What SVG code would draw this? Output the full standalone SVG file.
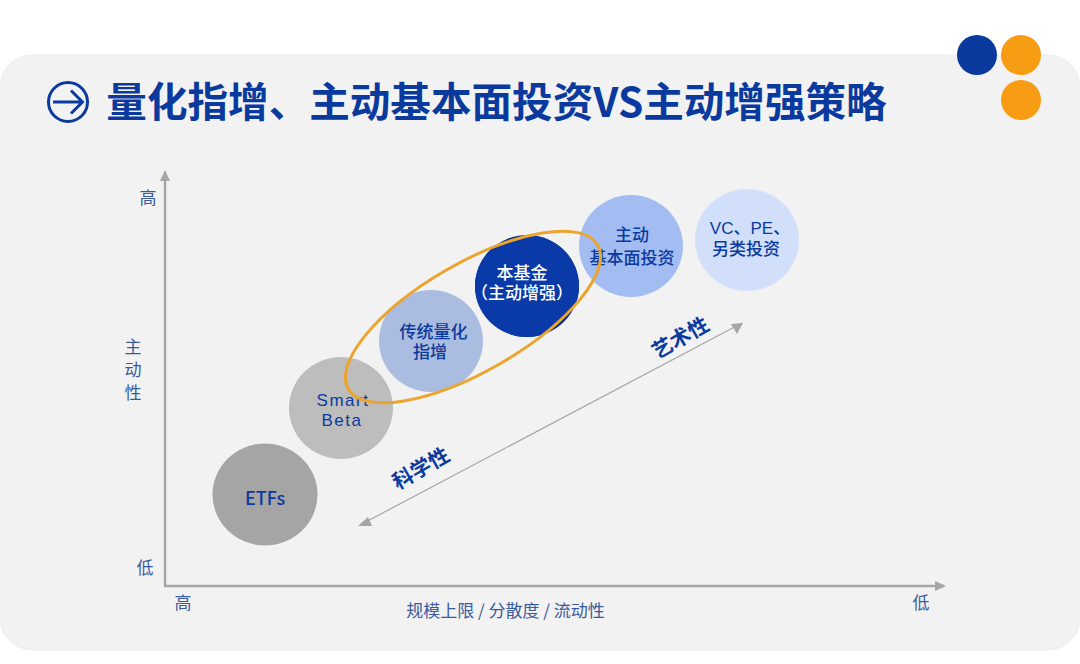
<svg xmlns="http://www.w3.org/2000/svg" width="1080" height="664" viewBox="0 0 1080 664">
<style>
text{font-family:"Noto Sans CJK SC","Noto Sans",sans-serif;text-anchor:middle}
.t{fill:#0b3a9e;font-size:17px;font-weight:500}
.l{font-family:"Liberation Sans","Noto Sans CJK SC",sans-serif}
.w{fill:#fff;font-size:17px;font-weight:500}
.a{fill:#3a5a9e;font-size:17px}
.r{fill:#0b3a9e;font-size:20.500px;font-weight:700}
</style>
<defs>
<marker id="ah" markerWidth="12" markerHeight="12" refX="9" refY="5" orient="auto" markerUnits="userSpaceOnUse"><path d="M0 0L11 5L0 10Z" fill="#a6a6a6"/></marker>
<clipPath id="ec"><ellipse cx="473" cy="317" rx="144" ry="54" transform="rotate(-30 473 317)"/></clipPath>
</defs>
<rect width="1080" height="664" fill="#fff"/>
<rect id="panel" x="0" y="55" width="1080" height="595" rx="32" fill="#f2f2f3" stroke="#e6e6e6" stroke-width="0.6"/>
<g id="header">
<circle cx="68" cy="102" r="19.500" fill="none" stroke="#0b3a9e" stroke-width="3"/>
<path d="M53 102H82M71 90.500L82.500 102L71 113.500" fill="none" stroke="#0b3a9e" stroke-width="3"/>
<text x="496.500" y="117" style="font-size:40.600px;font-weight:700;fill:#0b3a9e">量化指增、主动基本面投资VS主动增强策略</text>
</g>
<g id="logo"><circle cx="977" cy="55" r="20" fill="#0b3a9e"/><circle cx="1021" cy="55" r="20" fill="#f89c14"/><circle cx="1021" cy="100" r="20" fill="#f89c14"/></g>
<g id="connectors" fill="none" stroke="#a6a6a6">
<path d="M165 586V172" stroke-width="2.400" marker-end="url(#ah)"/>
<path d="M164 586H944" stroke-width="2.400" marker-end="url(#ah)"/>
<path d="M360 525L742 323" stroke-width="1.200"/>
<path d="M358 526L368 517L372 526Z M743 323L731 324L737 334Z" fill="#a6a6a6" stroke="none"/>
</g>
<g id="n-etfs"><ellipse cx="265" cy="494.500" rx="52.500" ry="51" fill="#a5a5a5"/><text class="t" x="265" y="504.500" style="font-size:18px">ETFs</text></g>
<g id="n-smart"><ellipse cx="341" cy="408" rx="52" ry="51" fill="#bdbdbd"/><text class="t l" x="343" y="406" style="letter-spacing:1.500px">Smart</text><text class="t l" x="342" y="425.500" style="letter-spacing:1.500px">Beta</text></g>
<g id="n-quant"><ellipse cx="431" cy="341" rx="52" ry="51" fill="#aabcdf"/><text class="t l" x="433.500" y="338">传统量化</text><text class="t l" x="430" y="358">指增</text></g>
<g id="n-fund"><ellipse cx="527" cy="286" rx="52" ry="51" fill="#0e2f80"/><ellipse cx="527" cy="286" rx="52" ry="51" fill="#0a3aa8" clip-path="url(#ec)"/><text class="w l" x="522" y="279">本基金</text><text class="w l" x="522" y="299">（主动增强）</text></g>
<g id="n-active"><ellipse cx="631" cy="246" rx="52" ry="51" fill="#a3bcf2"/><text class="t l" x="632" y="241">主动</text><text class="t l" x="632" y="264">基本面投资</text></g>
<g id="n-vc"><ellipse cx="747" cy="240" rx="52" ry="51" fill="#d2dffa"/><text class="t l" x="750" y="234">VC、PE、</text><text class="t l" x="746" y="255">另类投资</text></g>
<ellipse id="highlight" cx="473" cy="317" rx="144" ry="54" transform="rotate(-30 473 317)" fill="none" stroke="#eba52e" stroke-width="3"/>
<g id="labels">
<text class="r" transform="translate(424.500 474.500) rotate(-30)">科学性</text>
<text class="r" transform="translate(684 344) rotate(-30)">艺术性</text>
<text class="a" x="148" y="204">高</text>
<text class="a" x="133" y="353">主</text><text class="a" x="133" y="376">动</text><text class="a" x="133" y="399">性</text>
<text class="a" x="145" y="574">低</text>
<text class="a" x="183" y="609">高</text>
<text class="a" x="921" y="609">低</text>
<text class="a" x="505.500" y="617">规模上限 / 分散度 / 流动性</text>
</g>
</svg>
